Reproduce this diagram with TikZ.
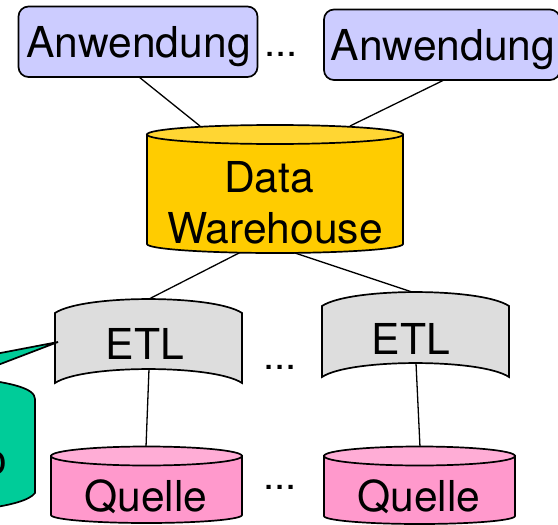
\documentclass[tikz,border=0pt]{standalone}
\usepackage{fontspec}
\setmainfont{TeX Gyre Heros}
\definecolor{appfill}{HTML}{CCCCFF}
\definecolor{dwfill}{HTML}{FFCC00}
\definecolor{dwtop}{HTML}{FFD633}
\definecolor{etlfill}{HTML}{DDDDDD}
\definecolor{srcfill}{HTML}{FF99CC}
\definecolor{srctop}{HTML}{FFADD6}
\definecolor{greenfill}{HTML}{00CC99}
\tikzset{
 x=1pt,y=-1pt,
 line/.style={draw=black,line width=1.3pt},
 outline/.style={draw=black,line width=1.7pt},
 lbl/.style={font=\fontsize{42.6}{46}\selectfont,inner sep=0pt,text=black},
 dots/.style={font=\fontsize{40}{46}\selectfont,inner sep=0pt,text=black},
 app/.style={outline,fill=appfill,rounded corners=10pt}
}
% x1,x2,rim y top,rim y bottom,ry top,ry bottom,fill,topfill
\newcommand{\cyl}[8]{%
 \path[outline,fill=#7] (#1,#3) -- (#1,#4)
   .. controls (#1,#4+0.552*#6) and ({(#1+#2)/2-0.276*(#2-#1)},#4+#6) .. ({(#1+#2)/2},#4+#6)
   .. controls ({(#1+#2)/2+0.276*(#2-#1)},#4+#6) and (#2,#4+0.552*#6) .. (#2,#4)
   -- (#2,#3) -- cycle;
 \path[outline,fill=#8] ({(#1+#2)/2},#3) ellipse [x radius={(#2-#1)/2}, y radius=#5];
}
% x1,x2,y top corner,y bottom corner
\newcommand{\etl}[4]{%
 \path[outline,fill=etlfill] (#1,#3) .. controls (#1+28,#3-18.6) and (#2-28,#3-18.6) .. (#2,#3) -- (#2,#4) .. controls (#2-28,#4-18.6) and (#1+28,#4-18.6) .. (#1,#4) -- cycle;
}
\begin{document}
\begin{tikzpicture}
\useasboundingbox (0,0) rectangle (558,525);
% connector ends
\coordinate (a1c) at (139,77);
\coordinate (dwa) at (200,126);
\coordinate (a2c) at (444,80);
\coordinate (dwb) at (350,126);
\coordinate (dwc) at (241,252);
\coordinate (e1t) at (149,299);
\coordinate (dwd) at (292,252);
\coordinate (e2t) at (415,293);
\coordinate (e1b) at (149,369);
\coordinate (q1t) at (146,447);
\coordinate (e2b) at (416,363);
\coordinate (q2t) at (420,447);
\draw[line] (a1c) -- (dwa);
\draw[line] (a2c) -- (dwb);
\draw[line] (dwc) -- (e1t);
\draw[line] (dwd) -- (e2t);
\draw[line] (e1b) -- (q1t);
\draw[line] (e2b) -- (q2t);
% apps
\path[app] (18.5,6.5) rectangle (257.5,77);
\node[lbl] (app1) at (138.5,47) {Anwendung};
\path[app] (324,9.5) rectangle (560,80);
\node[lbl] (app2) at (443,50) {Anwendung};
\node[dots] (d1) at (281,54) {...};
% DW
\cyl{147}{403}{134.5}{244}{9.5}{9}{dwfill}{dwtop}
\node[lbl] (dw1) at (269,177) {Data};
\node[lbl] (dw2) at (275,228) {Warehouse};
% ETL
\etl{55}{242}{313}{383}
\node[lbl] (etl1) at (145,344) {ETL};
\etl{322}{509}{306}{377}
\node[lbl] (etl2) at (411,339) {ETL};
\node[dots] (d2) at (280,367) {...};
% sources
\cyl{51}{242}{456}{515}{9.5}{8}{srcfill}{srctop}
\node[lbl] (q1) at (146,497) {Quelle};
\cyl{324}{515}{456}{516}{9.5}{8}{srcfill}{srctop}
\node[lbl] (q2) at (419,497) {Quelle};
\node[dots] (d3) at (280,487) {...};
% green
\path[outline,fill=greenfill] (-20,379) .. controls (10,383) and (35,388) .. (35,399) -- (35,493) .. controls (30,500) and (10,506) .. (-20,509) -- cycle;
\path[outline,fill=greenfill] (-10,355) -- (58,342) -- (-10,368);
\node[lbl] (green) at (-5,463) {o};
\end{tikzpicture}
\end{document}
